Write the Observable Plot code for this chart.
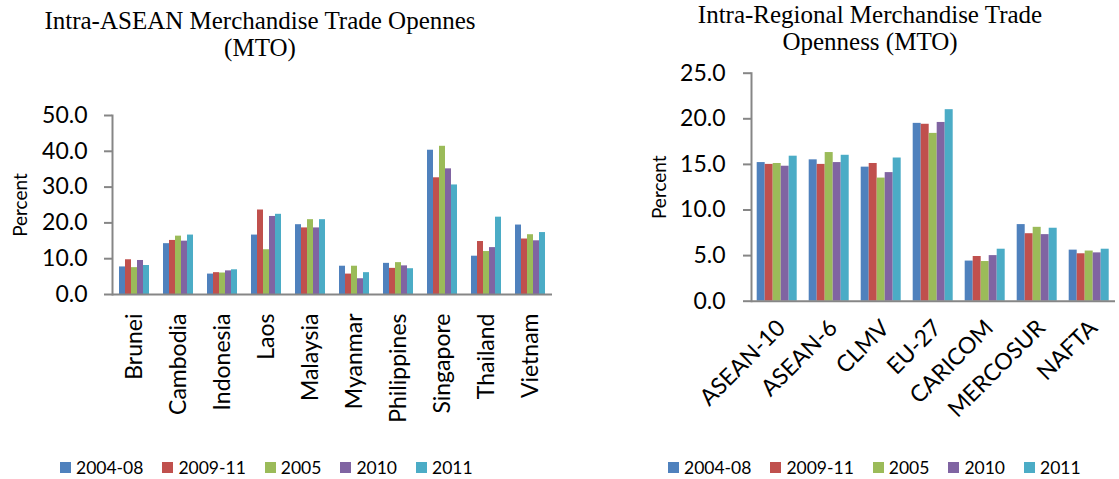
<!DOCTYPE html>
<html>
<head>
<meta charset="utf-8">
<script src="https://cdn.jsdelivr.net/npm/d3@7"></script>
<script src="https://cdn.jsdelivr.net/npm/@observablehq/plot@0.6"></script>
<style>
  html, body { margin: 0; padding: 0; background: #fff; }
  #root { position: relative; width: 1119px; height: 479px; overflow: hidden; font-family: Lato, sans-serif; }
  .title { position: absolute; font-family: "Liberation Serif", "Times New Roman", serif; font-size: 25px; line-height: 27px; text-align: center; color: #000; white-space: nowrap; transform: translateX(-50%); }
  .chart { position: absolute; top: 0; }
  .legend { position: absolute; top: 457px; display: flex; gap: 19px; font-family: Lato, sans-serif; font-size: 17.5px; color: #000; }
  .legend .item { display: flex; align-items: center; }
  .legend .sw { width: 11px; height: 11px; margin-right: 5px; }
</style>
</head>
<body>
<div id="root"></div>
<script>
// ---- Data ----
const series = ["2004-08", "2009-11", "2005", "2010", "2011"];
const colors = ["#4F81BD", "#C0504D", "#9BBB59", "#8064A2", "#4BACC6"];

const countries = ["Brunei", "Cambodia", "Indonesia", "Laos", "Malaysia", "Myanmar", "Philippines", "Singapore", "Thailand", "Vietnam"];
const asean_2004_08 = [7.7, 14.2, 5.7, 16.6, 19.5, 7.9, 8.7, 40.3, 10.7, 19.4];
const asean_2009_11 = [9.7, 15.1, 6.1, 23.6, 18.6, 5.7, 7.3, 32.6, 14.8, 15.5];
const asean_2005    = [7.5, 16.3, 6.0, 12.5, 20.9, 7.9, 8.9, 41.4, 12.0, 16.7];
const asean_2010    = [9.5, 14.9, 6.6, 21.8, 18.6, 4.4, 8.0, 35.1, 13.1, 15.0];
const asean_2011    = [8.1, 16.6, 6.9, 22.4, 20.9, 6.1, 7.2, 30.6, 21.6, 17.3];
const leftTicks = [0, 10, 20, 30, 40, 50];

const regions = ["ASEAN-10", "ASEAN-6", "CLMV", "EU-27", "CARICOM", "MERCOSUR", "NAFTA"];
const reg_2004_08 = [15.2, 15.5, 14.7, 19.5, 4.4, 8.4, 5.6];
const reg_2009_11 = [15.0, 15.0, 15.1, 19.4, 4.9, 7.4, 5.2];
const reg_2005    = [15.1, 16.3, 13.5, 18.4, 4.35, 8.1, 5.5];
const reg_2010    = [14.8, 15.2, 14.1, 19.6, 5.0, 7.3, 5.3];
const reg_2011    = [15.9, 16.0, 15.7, 21.0, 5.7, 8.0, 5.7];
const rightTicks = [0, 5, 10, 15, 20, 25];

const leftTitle = ["Intra-ASEAN Merchandise Trade Opennes", "(MTO)"];
const rightTitle = ["Intra-Regional Merchandise Trade", "Openness (MTO)"];
const yLabel = "Percent";

// ---- Build tables ----
function table(cats, cols) {
  const rows = [];
  cats.forEach((c, i) => cols.forEach((col, j) => rows.push({cat: c, series: series[j], value: col[i]})));
  return rows;
}
const leftData = table(countries, [asean_2004_08, asean_2009_11, asean_2005, asean_2010, asean_2011]);
const rightData = table(regions, [reg_2004_08, reg_2009_11, reg_2005, reg_2010, reg_2011]);

const axisGray = "#868686";

function chart({data, cats, ticks, width, height, marginLeft, marginRight, marginTop, marginBottom, rotate, tickPadding, fxDx, yTickPadding}) {
  return Plot.plot({
    width, height, marginLeft, marginRight, marginTop, marginBottom,
    style: {fontFamily: "Lato, sans-serif", color: "#000", background: "transparent", overflow: "visible"},
    fx: {domain: cats, padding: 0, label: null},
    x: {domain: series, paddingInner: 0, paddingOuter: 0.66, axis: null},
    y: {domain: [ticks[0], ticks[ticks.length - 1]], label: null},
    color: {domain: series, range: colors},
    marks: [
      Plot.barY(data, {fx: "cat", x: "series", y: "value", fill: "series"}),
      Plot.ruleY([0], {stroke: axisGray, strokeWidth: 2}),
      Plot.frame({anchor: "left", facetAnchor: "left", stroke: axisGray, strokeWidth: 2}),
      Plot.axisY({ticks, tickFormat: d => d.toFixed(1), tickSize: 8, tickPadding: yTickPadding, stroke: axisGray, strokeWidth: 2, fontSize: 23, label: null}),
      Plot.text([yLabel], {frameAnchor: "left", facetAnchor: "left", rotate: -90, dx: -92, fontSize: 19, textAnchor: "middle", lineAnchor: "middle"}),
      Plot.axisFx({anchor: "bottom", tickRotate: rotate, tickSize: 0, tickPadding, dx: fxDx, fontSize: 23, label: null})
    ]
  });
}

const root = document.getElementById("root");

const left = chart({data: leftData, cats: countries, ticks: leftTicks, width: 560, height: 440,
  marginLeft: 111, marginRight: 7, marginTop: 115, marginBottom: 146, rotate: -90, tickPadding: 19, fxDx: 0, yTickPadding: 17});
left.classList.add("chart");
left.style.left = "0px";
root.appendChild(left);

const right = chart({data: rightData, cats: regions, ticks: rightTicks, width: 559, height: 440,
  marginLeft: 189.3, marginRight: 2, marginTop: 72.7, marginBottom: 139.3, rotate: -45, tickPadding: 23, fxDx: 4, yTickPadding: 18});
right.classList.add("chart");
right.style.left = "560px";
root.appendChild(right);

function addTitle(lines, cx, top) {
  const d = document.createElement("div");
  d.className = "title";
  d.style.left = cx + "px";
  d.style.top = top + "px";
  d.innerHTML = lines.join("<br>");
  root.appendChild(d);
}
addTitle(leftTitle, 260, 7);
addTitle(rightTitle, 870, 1);

function addLegend(x) {
  const d = document.createElement("div");
  d.className = "legend";
  d.style.left = x + "px";
  series.forEach((s, i) => {
    const it = document.createElement("div");
    it.className = "item";
    const sw = document.createElement("span");
    sw.className = "sw";
    sw.style.background = colors[i];
    const t = document.createElement("span");
    t.textContent = s;
    it.appendChild(sw); it.appendChild(t);
    d.appendChild(it);
  });
  root.appendChild(d);
}
addLegend(60);
addLegend(668);
</script>
</body>
</html>
